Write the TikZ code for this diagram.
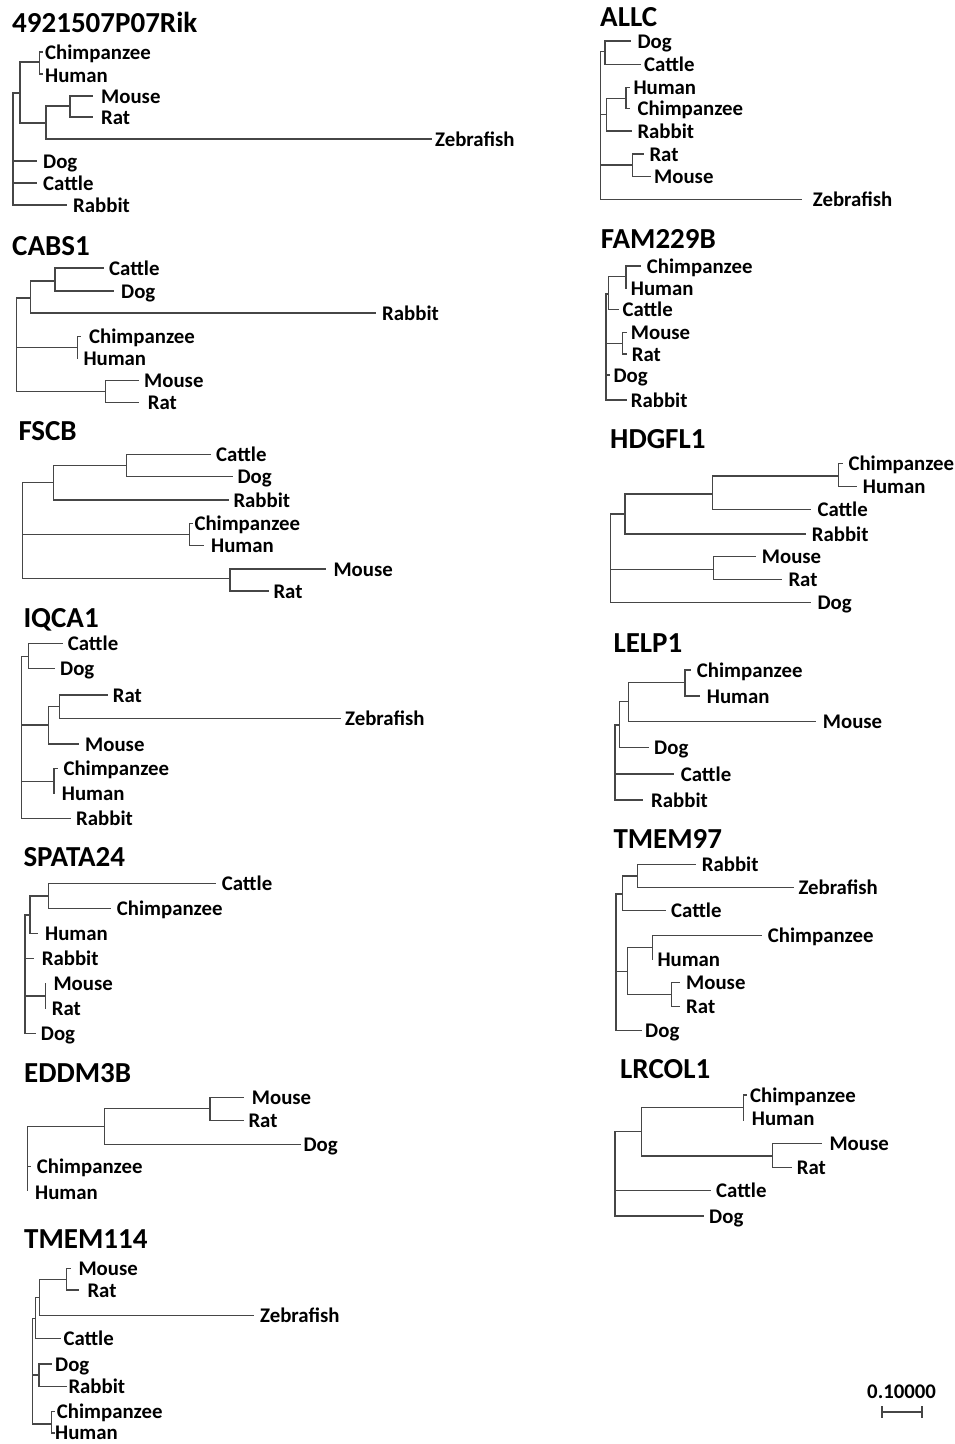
\documentclass[tikz,border=0pt]{standalone}
\usepackage{fontspec}
\setmainfont{Carlito}
\definecolor{brl}{RGB}{70,70,70}
\newcounter{lbc}
\tikzset{
  branch/.style={draw=brl,line width=1.35pt,line cap=rect},
  lbl/.style={anchor=base west,inner sep=0pt,yshift=-7pt,font=\fontsize{20.8}{22}\selectfont\bfseries},
  ttl/.style={anchor=base west,inner sep=0pt,font=\fontsize{29}{30}\selectfont\bfseries}
}
\newcommand\hl[3]{\draw[branch] (#1,#3) -- (#2,#3);}
\newcommand\vl[3]{\draw[branch] (#1,#2) -- (#1,#3);}
\newcommand\lb[3]{\stepcounter{lbc}\node[lbl] (L\arabic{lbc}) at (#1,#2) {#3};}
\newcommand\ttl[3]{\node[ttl] (#3) at (#1,#2) {#3};}
\begin{document}
\begin{tikzpicture}[x=1pt,y=-1pt]
\useasboundingbox (0,0) rectangle (955,1444);
\fill[white] (0,0) rectangle (955,1444);
% ---------- 4921507P07Rik
\ttl{12}{32}{4921507P07Rik}
\vl{13}{93}{205}
\hl{13}{20}{93}
\vl{20}{62}{123}
\hl{20}{39.5}{62}
\vl{39.5}{52}{74}
\hl{39.5}{42}{52} \lb{45}{52}{Chimpanzee}
\hl{39.5}{42}{74} \lb{45}{75}{Human}
\hl{20}{46}{123}
\vl{46}{106}{139}
\hl{46}{70}{106}
\vl{70}{96}{117}
\hl{70}{92}{96} \lb{101}{96}{Mouse}
\hl{70}{92}{117} \lb{101}{117}{Rat}
\hl{46}{431}{139} \lb{435}{139}{Zebrafish}
\hl{13}{36}{161} \lb{43}{161}{Dog}
\hl{13}{36}{183} \lb{43}{183}{Cattle}
\hl{13}{66}{205} \lb{73}{205}{Rabbit}
% ---------- CABS1
\ttl{12}{255}{CABS1}
\vl{55}{268}{291}
\hl{55}{103}{268} \lb{109}{268}{Cattle}
\hl{55}{113}{291} \lb{121}{291}{Dog}
\hl{30.7}{55}{281}
\vl{30.7}{281}{313}
\hl{30.7}{375}{313} \lb{382}{313}{Rabbit}
\vl{16.7}{298}{391.7}
\hl{16.7}{30.7}{298}
\vl{77.3}{336.5}{358}
\hl{16.7}{77.3}{347.7}
\hl{77.3}{80}{336.5} \lb{89}{336}{Chimpanzee}
\lb{83.3}{358}{Human}
\vl{105.3}{380.7}{402.7}
\hl{16.7}{105.3}{391.7}
\hl{105.3}{138}{380.7} \lb{144}{380.7}{Mouse}
\hl{105.3}{138}{402.7} \lb{147.7}{402.7}{Rat}
% ---------- FSCB
\ttl{18.3}{440}{FSCB}
\vl{126.7}{454.3}{476.7}
\hl{126.7}{210}{454.3} \lb{216}{454.3}{Cattle}
\hl{126.7}{232}{476.7} \lb{237.3}{476.7}{Dog}
\vl{53.3}{465.7}{500}
\hl{53.3}{126.7}{465.7}
\hl{53.3}{228}{500} \lb{233.3}{500}{Rabbit}
\vl{22.7}{482.7}{578.3}
\hl{22.7}{53.3}{482.7}
\vl{189.3}{523.3}{545.7}
\hl{22.7}{189.3}{534.3}
\hl{189.3}{192}{523.3} \lb{194.3}{523.3}{Chimpanzee}
\hl{189.3}{203}{545.7} \lb{211}{545.7}{Human}
\vl{230}{569}{591}
\hl{22.7}{230}{578.3}
\hl{230}{325}{569} \lb{333.3}{569}{Mouse}
\hl{230}{268}{591} \lb{273.3}{591}{Rat}
% ---------- IQCA1
\ttl{23.3}{627}{IQCA1}
\vl{28.3}{643.3}{668.3}
\hl{28.3}{62}{643.3} \lb{67.7}{643.3}{Cattle}
\hl{28.3}{54}{668.3} \lb{60}{668.3}{Dog}
\vl{21.7}{656.7}{818.3}
\hl{21.7}{28.3}{656.7}
\vl{59.3}{695}{718.3}
\hl{59.3}{107}{695} \lb{112.7}{695}{Rat}
\hl{59.3}{340}{718.3} \lb{345}{718.3}{Zebrafish}
\vl{48.3}{706.7}{744}
\hl{48.3}{59.3}{706.7}
\hl{21.7}{48.3}{725}
\hl{48.3}{78}{744} \lb{85}{744}{Mouse}
\vl{54}{768.3}{793.3}
\hl{21.7}{54}{781.7}
\hl{54}{57}{768.3} \lb{63.3}{768.3}{Chimpanzee}
\lb{61.7}{793.3}{Human}
\hl{21.7}{70}{818.3} \lb{76}{818.3}{Rabbit}
% ---------- SPATA24
\ttl{23.3}{866.7}{SPATA24}
\vl{48.3}{883.3}{908.3}
\hl{48.3}{215}{883.3} \lb{221.7}{883.3}{Cattle}
\hl{48.3}{110}{908.3} \lb{116.7}{908.3}{Chimpanzee}
\vl{30}{896}{933.3}
\hl{30}{48.3}{896}
\hl{30}{37}{933.3} \lb{45}{933.3}{Human}
\vl{25}{915}{1033.3}
\hl{25}{30}{915}
\hl{25}{33}{958.3} \lb{41.7}{958.3}{Rabbit}
\vl{45.7}{983.3}{1008.3}
\hl{25}{45.7}{996}
\lb{53.3}{983.3}{Mouse} \lb{51.7}{1008.3}{Rat}
\hl{25}{35}{1033.3} \lb{40.7}{1033.3}{Dog}
% ---------- EDDM3B
\ttl{24}{1082}{EDDM3B}
\vl{210}{1097.3}{1120.7}
\hl{210}{243}{1097.3} \lb{251.7}{1097.3}{Mouse}
\hl{210}{243}{1120.7} \lb{248.3}{1120.7}{Rat}
\vl{104.3}{1108.3}{1144.3}
\hl{104.3}{210}{1108.3}
\hl{104.3}{300}{1144.3} \lb{303.3}{1144.3}{Dog}
\vl{27.3}{1126.7}{1190}
\hl{27.3}{104.3}{1126.7}
\hl{27.3}{30}{1166.7} \lb{36.7}{1166.7}{Chimpanzee}
\lb{35}{1192}{Human}
% ---------- TMEM114
\ttl{24}{1248.3}{TMEM114}
\vl{66.7}{1268.3}{1290}
\hl{66.7}{70}{1268.3} \lb{78.3}{1268.3}{Mouse}
\hl{66.7}{78}{1290} \lb{87.3}{1290}{Rat}
\vl{39.3}{1279.3}{1315.7}
\hl{39.3}{66.7}{1279.3}
\hl{39.3}{253}{1315.7} \lb{260}{1315.7}{Zebrafish}
\vl{35.7}{1297.3}{1338.3}
\hl{35.7}{39.3}{1297.3}
\hl{35.7}{60}{1338.3} \lb{63.3}{1338.3}{Cattle}
\vl{32.3}{1318.3}{1424}
\hl{32.3}{35.7}{1318.3}
\vl{39}{1364}{1386.7}
\hl{32.3}{39}{1375}
\hl{39}{51}{1364} \lb{55}{1364}{Dog}
\hl{39}{66}{1386.7} \lb{68.3}{1386.7}{Rabbit}
\vl{51.7}{1411.7}{1433}
\hl{32.3}{51.7}{1424}
\hl{51.7}{54}{1411.7} \lb{56.7}{1411.7}{Chimpanzee}
\hl{51.7}{54}{1433} \lb{55}{1432.5}{Human}
% ---------- ALLC
\ttl{600}{26}{ALLC}
\vl{605}{41}{64.3}
\hl{605}{630}{41} \lb{637.3}{41}{Dog}
\hl{605}{640}{64.3} \lb{644}{64.3}{Cattle}
\vl{600.7}{51.7}{199.3}
\hl{600.7}{605}{51.7}
\vl{626}{87.7}{108.3}
\hl{626}{629}{87.7} \lb{633.3}{87.7}{Human}
\hl{626}{629}{108.3} \lb{637.3}{108.3}{Chimpanzee}
\vl{606.7}{98.3}{131}
\hl{600.7}{606.7}{114.7}
\hl{606.7}{626}{98.3}
\hl{606.7}{631.7}{131} \lb{637.3}{131}{Rabbit}
\vl{632.7}{154}{176.7}
\hl{600.7}{632.7}{165}
\hl{632.7}{643.3}{154} \lb{649.3}{154}{Rat}
\hl{632.7}{650}{176.7} \lb{654}{176.7}{Mouse}
\hl{600.7}{801.7}{199.3} \lb{812.7}{199.3}{Zebrafish}
% ---------- FAM229B
\ttl{600.7}{248.3}{FAM229B}
\vl{626}{266}{288.3}
\hl{626}{640}{266} \lb{646.7}{266}{Chimpanzee}
\lb{630.7}{288.3}{Human}
\vl{608.3}{276.7}{309.3}
\hl{608.3}{626}{276.7}
\hl{608.3}{618.3}{309.3} \lb{622.3}{309.3}{Cattle}
\vl{606}{294}{400}
\hl{606}{608.3}{294}
\vl{622.7}{332.7}{354}
\hl{606}{622.7}{343.3}
\hl{622.7}{626}{332.7} \lb{630.7}{332.7}{Mouse}
\hl{622.7}{626}{354} \lb{631.7}{354}{Rat}
\hl{606}{609}{375} \lb{613.3}{375}{Dog}
\hl{606}{626.7}{400} \lb{630.7}{400}{Rabbit}
% ---------- HDGFL1
\ttl{610}{448.3}{HDGFL1}
\vl{838.3}{463.3}{486.7}
\hl{838.3}{842}{463.3} \lb{848.3}{463.3}{Chimpanzee}
\hl{838.3}{856}{486.7} \lb{862.7}{486.7}{Human}
\vl{712.7}{476}{509.3}
\hl{712.7}{838.3}{476}
\hl{712.7}{810}{509.3} \lb{817.3}{509.3}{Cattle}
\vl{625}{494}{534}
\hl{625}{712.7}{494}
\hl{625}{805}{534} \lb{811.7}{534}{Rabbit}
\vl{610.7}{514}{602.7}
\hl{610.7}{625}{514}
\vl{713.3}{556.7}{579.3}
\hl{610.7}{713.3}{569.3}
\hl{713.3}{755}{556.7} \lb{761.7}{556.7}{Mouse}
\hl{713.3}{781.7}{579.3} \lb{788.3}{579.3}{Rat}
\hl{610.7}{810}{602.7} \lb{817.3}{602.7}{Dog}
% ---------- LELP1
\ttl{613.3}{652.3}{LELP1}
\vl{685}{670}{696}
\hl{685}{690}{670} \lb{696.7}{670}{Chimpanzee}
\hl{685}{699.3}{696} \lb{706.7}{696}{Human}
\vl{628.3}{682.7}{721.7}
\hl{628.3}{685}{682.7}
\hl{628.3}{815}{721.7} \lb{822.7}{721.7}{Mouse}
\vl{619.3}{701.7}{747.7}
\hl{619.3}{628.3}{701.7}
\hl{619.3}{648.3}{747.7} \lb{654}{747.7}{Dog}
\vl{615}{725}{800}
\hl{615}{619.3}{725}
\hl{615}{673.3}{774} \lb{680.7}{774}{Cattle}
\hl{615}{642.7}{800} \lb{651}{800}{Rabbit}
% ---------- TMEM97
\ttl{613.3}{848.3}{TMEM97}
\vl{637.7}{864.3}{887.7}
\hl{637.7}{695}{864.3} \lb{701.7}{864.3}{Rabbit}
\hl{637.7}{793.3}{887.7} \lb{798.3}{887.7}{Zebrafish}
\vl{622.3}{876}{910.7}
\hl{622.3}{637.7}{876}
\hl{622.3}{665}{910.7} \lb{671}{910.7}{Cattle}
\vl{616}{894}{1030.7}
\hl{616}{622.3}{894}
\vl{652.3}{935.7}{959.3}
\hl{652.3}{761.7}{935.7} \lb{767.7}{935.7}{Chimpanzee}
\lb{657.3}{959}{Human}
\vl{627.7}{947.7}{994.3}
\hl{627.7}{652.3}{947.7}
\hl{616}{627.7}{971.7}
\vl{671.7}{982.7}{1006.7}
\hl{627.7}{671.7}{994.3}
\hl{671.7}{679}{982.7} \lb{686}{982.7}{Mouse}
\hl{671.7}{679}{1006.7} \lb{686}{1006.7}{Rat}
\hl{616}{641.7}{1030.7} \lb{645}{1030.7}{Dog}
% ---------- LRCOL1
\ttl{620}{1078.3}{LRCOL1}
\vl{743.3}{1095}{1120}
\hl{743.3}{746}{1095} \lb{750}{1095}{Chimpanzee}
\lb{751.7}{1118}{Human}
\vl{641.7}{1107.3}{1156}
\hl{641.7}{743.3}{1107.3}
\vl{772.3}{1143.3}{1167.3}
\hl{641.7}{772.3}{1156}
\hl{772.3}{821.7}{1143.3} \lb{829.3}{1143.3}{Mouse}
\hl{772.3}{791.7}{1167.3} \lb{796.7}{1167.3}{Rat}
\vl{615}{1131.7}{1216}
\hl{615}{641.7}{1131.7}
\hl{615}{710}{1190.7} \lb{716}{1190.7}{Cattle}
\hl{615}{703}{1216} \lb{709}{1216}{Dog}
% ---------- scale bar
\lb{867}{1391}{0.10000}
\coordinate (sbL) at (882,1412);
\coordinate (sbR) at (922,1412);
\draw[branch] (sbL) -- (sbR);
\draw[branch] ([yshift=5pt]sbL) -- ([yshift=-5pt]sbL);
\draw[branch] ([yshift=5pt]sbR) -- ([yshift=-5pt]sbR);
\end{tikzpicture}
\end{document}
